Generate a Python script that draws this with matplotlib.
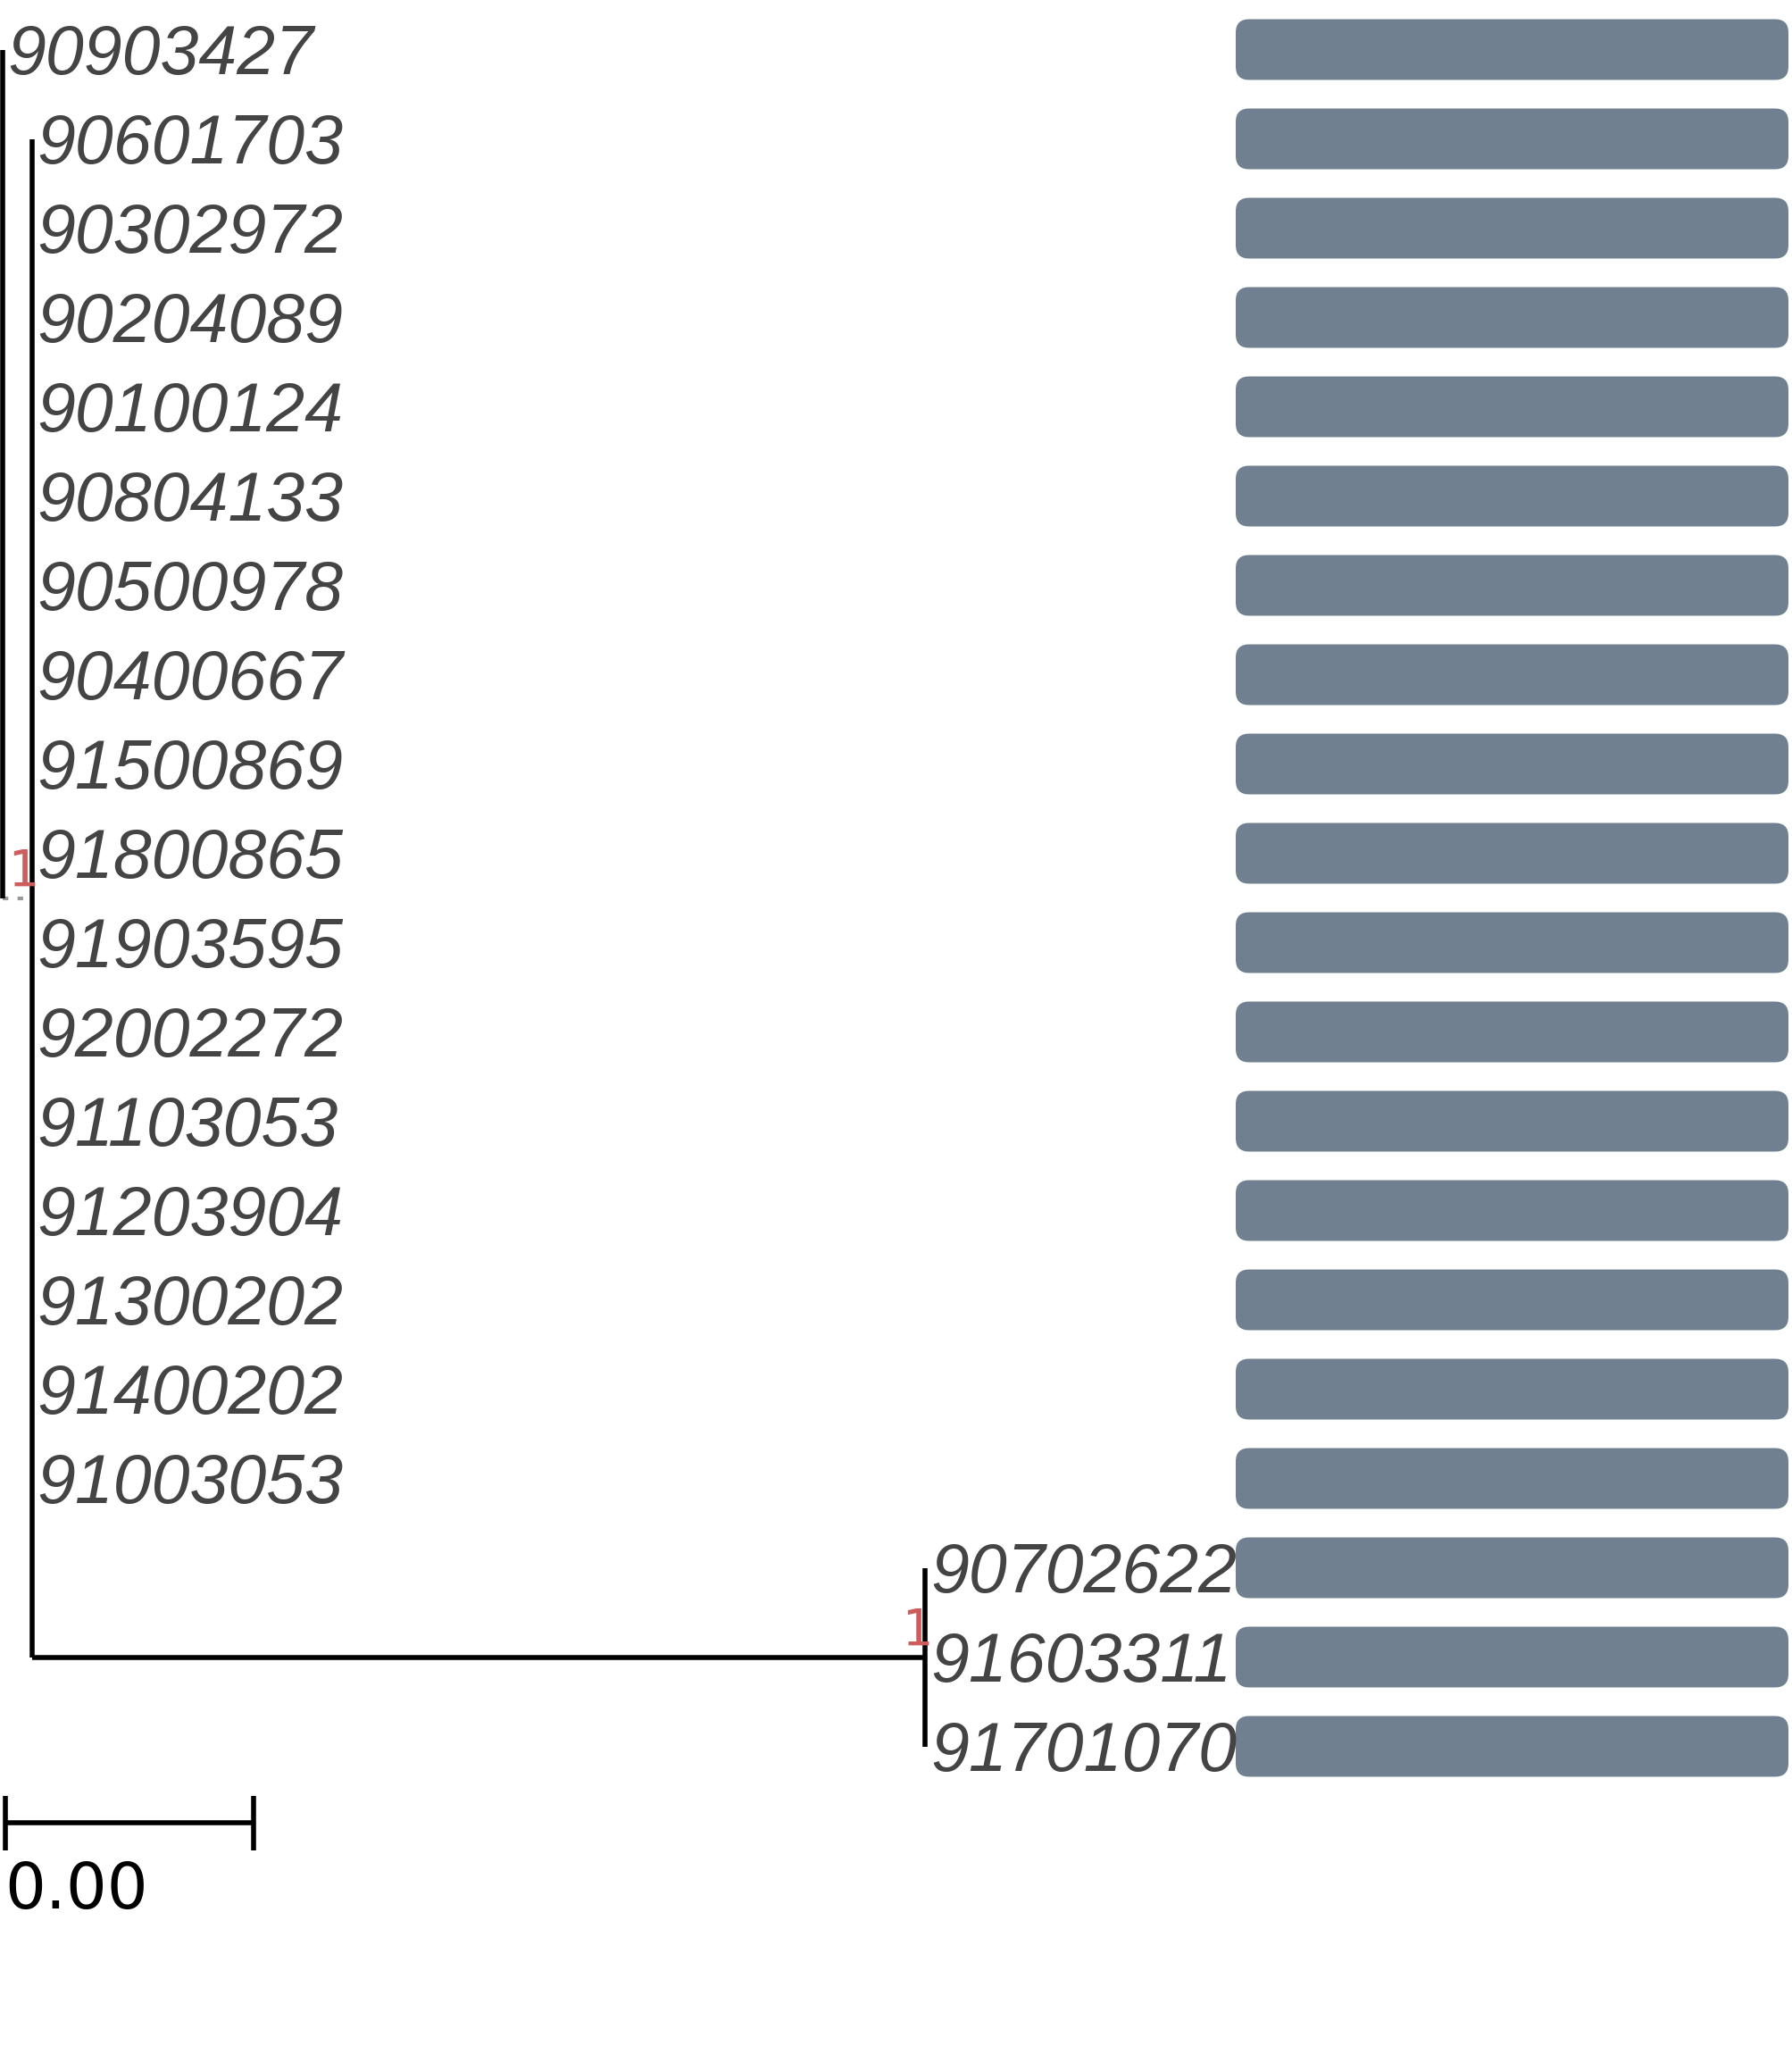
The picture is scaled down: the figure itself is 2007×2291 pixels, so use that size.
import matplotlib
matplotlib.use("Agg")
import matplotlib.pyplot as plt
from matplotlib.patches import FancyBboxPatch

# tip labels, top to bottom
tip_labels = ["90903427", "90601703", "90302972", "90204089", "90100124",
              "90804133", "90500978", "90400667", "91500869", "91800865",
              "91903595", "92002272", "91103053", "91203904", "91300202",
              "91400202", "91003053", "90702622", "91603311", "91701070"]

# branch lengths
bl_root_inner = 0.000475
bl_inner_clade = 0.0144
inner_tips = tip_labels[1:17]
clade_tips = tip_labels[17:]
support_inner = "1"
support_clade = "1"

# value shown in the bar panel, one per tip
bar_values = [1, 1, 1, 1, 1, 1, 1, 1, 1, 1,
              1, 1, 1, 1, 1, 1, 1, 1, 1, 1]

scale_width = 0.004
scale_label = "%.2f" % 0.0

# layout (pixels -> data units)
W, H = 2007, 2291
px_x = 69500.0       # pixels per tree unit
px_y = 100.0         # pixels per row
x0_px = 2.5
y0_px = 55.5

line_kw = dict(color="black", lw=4.0, solid_capstyle="butt")
label_color = "#444444"
bar_color = "#708090"
node_color = "#CD5C5C"

fig = plt.figure(figsize=(W / 100, H / 100), dpi=100)
ax = fig.add_axes([0, 0, 1, 1])
ax.set_xlim(-x0_px / px_x, (W - x0_px) / px_x)
ax.set_ylim(1 + (H - y0_px) / px_y, 1 - y0_px / px_y)
ax.axis("off")

row = {lab: i + 1 for i, lab in enumerate(tip_labels)}

# node positions
x_root = 0.0
x_inner = x_root + bl_root_inner
x_clade = x_inner + bl_inner_clade
y_clade = (row[clade_tips[0]] + row[clade_tips[-1]]) / 2
y_inner = (row[inner_tips[0]] + y_clade) / 2
y_tip1 = row[tip_labels[0]]

tip_x = {tip_labels[0]: x_root}
tip_x.update({t: x_inner for t in inner_tips})
tip_x.update({t: x_clade for t in clade_tips})

# root -> inner branch (tiny, dotted)
ax.plot([x_root, x_inner], [y_inner, y_inner], color="#999999", lw=3,
        linestyle=(0, (1.5, 2.5)))

# vertical lines
ax.plot([x_root, x_root], [y_tip1, y_inner], **line_kw)
ax.plot([x_inner, x_inner], [row[inner_tips[0]], y_clade], **line_kw)
ax.plot([x_clade, x_clade], [row[clade_tips[0]], row[clade_tips[-1]]], **line_kw)
# inner -> clade branch
ax.plot([x_inner, x_clade], [y_clade, y_clade], **line_kw)

# tip labels
for lab in tip_labels:
    ax.text(tip_x[lab] + 6 / px_x, row[lab] + 0.275, lab,
            fontsize=55.5, family="Liberation Sans", style="italic",
            color=label_color, ha="left", va="baseline")

# node support labels
for nx, ny, s in [(x_inner, y_inner, support_inner), (x_clade, y_clade, support_clade)]:
    ax.text(nx + 7 / px_x, ny - 0.125, s, fontsize=41, family="DejaVu Sans Mono",
            color=node_color, ha="right", va="baseline")

# bar panel with rounded bars
bar_x0 = (1384 - x0_px) / px_x
bar_len = 619 / px_x
bar_h = 0.68
r = 15 / px_x
for lab, v in zip(tip_labels, bar_values):
    p = FancyBboxPatch((bar_x0, row[lab] - bar_h / 2), bar_len * v, bar_h,
                       boxstyle="round,pad=0,rounding_size=%g" % r,
                       mutation_aspect=px_x / px_y,
                       facecolor=bar_color, edgecolor="none")
    ax.add_patch(p)

# scale bar
sb_x = 3 / px_x
sb_y = 20.855
ax.plot([sb_x, sb_x + scale_width], [sb_y, sb_y], **line_kw)
for xx in (sb_x, sb_x + scale_width):
    ax.plot([xx, xx], [sb_y - 0.305, sb_y + 0.305], **line_kw)
ax.text(sb_x, 21.815, scale_label, fontsize=52, family="DejaVu Sans",
        color="black", ha="left", va="baseline")

fig.savefig("out.png", dpi=100, facecolor="white")
